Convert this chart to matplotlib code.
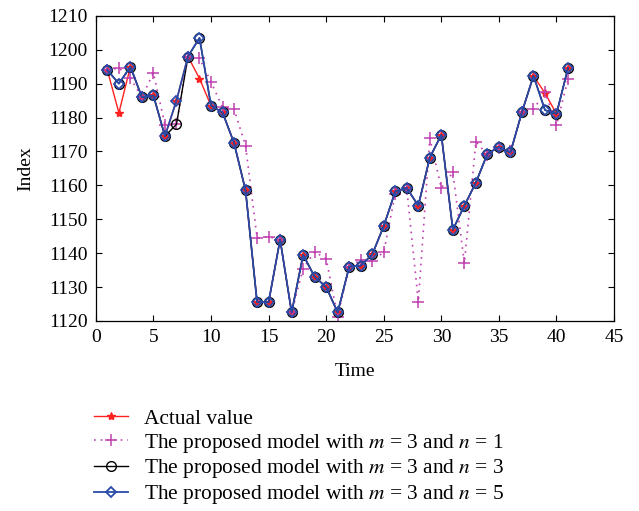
import matplotlib
matplotlib.use("Agg")
import matplotlib.pyplot as plt
import numpy as np

plt.rcParams['font.family'] = ['Liberation Serif', 'DejaVu Serif']
plt.rcParams['mathtext.fontset'] = 'stix'

time = list(range(1, 42))
actual = [1194, 1181.4, 1195, 1186, 1186.5, 1174.5, 1185, 1198, 1191.5, 1183.5,
          1181.5, 1172.5, 1158.5, 1125.5, 1125.5, 1144, 1122.5, 1139.5, 1133, 1130,
          1122.5, 1136, 1136.3, 1139.6, 1148, 1158.2, 1159.2, 1154, 1168.2, 1174.9,
          1146.9, 1154, 1160.8, 1169.3, 1171.3, 1169.7, 1181.6, 1192.3, 1187.2, 1181.1,
          1194.6]
model_n1 = [1194, 1194.6, 1191.6, 1186, 1193.2, 1177.8, 1178, 1198, 1197.5, 1190.5,
            1183, 1182.5, 1171.7, 1144.5, 1144.8, 1144, 1122.5, 1135.4, 1140.4, 1138.3,
            1121.3, 1136, 1138, 1137.6, 1140.3, 1157.5, 1159, 1125.7, 1173.9, 1159.2,
            1163.8, 1137, 1172.9, 1169, 1171, 1170, 1181.5, 1182.4, 1187.5, 1177.8,
            1191.3]
model_n3 = [1194, 1190, 1195, 1186, 1186.5, 1174.5, 1178, 1198, 1203.5, 1183.5,
            1181.5, 1172.5, 1158.5, 1125.5, 1125.5, 1144, 1122.5, 1139.5, 1133, 1130,
            1122.5, 1136, 1136.3, 1139.6, 1148, 1158.2, 1159.2, 1154, 1168.2, 1174.9,
            1146.9, 1154, 1160.8, 1169.3, 1171.3, 1169.7, 1181.6, 1192.3, 1182.2, 1181.1,
            1194.6]
model_n5 = [1194, 1190, 1195, 1186, 1186.5, 1174.5, 1185, 1198, 1203.5, 1183.5,
            1181.5, 1172.5, 1158.5, 1125.5, 1125.5, 1144, 1122.5, 1139.5, 1133, 1130,
            1122.5, 1136, 1136.3, 1139.6, 1148, 1158.2, 1159.2, 1154, 1168.2, 1174.9,
            1146.9, 1154, 1160.8, 1169.3, 1171.3, 1169.7, 1181.6, 1192.3, 1182.2, 1181.1,
            1194.6]

fig = plt.figure(figsize=(6.39, 5.11), dpi=100)
ax = fig.add_axes([0.150, 0.372, 0.811, 0.597])

h1, = ax.plot(time, actual, color='#ff2020', lw=1.0, marker='*', ms=6,
              mfc='#ff2020', mec='#ff2020', label='Actual value')
h2, = ax.plot(time, model_n1, color='#c040b0', lw=1.2, ls=(0, (1, 3)), marker='+', ms=8,
              mew=1.1, label=r'The proposed model with $m$ = 3 and $n$ = 1')
h3, = ax.plot(time, model_n3, color='black', lw=1.0, marker='o', ms=7,
              mfc='none', mec='black', mew=1.0,
              label=r'The proposed model with $m$ = 3 and $n$ = 3')
h4, = ax.plot(time, model_n5, color='#2a4aa8', lw=1.3, marker='D', ms=5.2,
              mfc='none', mec='#2a4aa8', mew=1.3,
              label=r'The proposed model with $m$ = 3 and $n$ = 5')

ax.set_xlim(0, 45)
ax.set_ylim(1120, 1210)
ax.set_xticks(np.arange(0, 46, 5))
ax.set_yticks(np.arange(1120, 1211, 10))
ax.tick_params(direction='in', top=True, right=True, labelsize=14, length=4)
ax.tick_params(axis='y', pad=6)
ax.tick_params(axis='x', pad=6)
for s in ax.spines.values():
    s.set_linewidth(0.9)
ax.set_xlabel('Time', fontsize=14, labelpad=12)
ax.set_ylabel('Index', fontsize=14, labelpad=10)

fig.legend(handles=[h1, h2, h3, h4], loc='upper left', bbox_to_anchor=(0.147, 0.200),
           frameon=False, fontsize=15.4, handlelength=1.6, labelspacing=0.13,
           handletextpad=0.75, borderaxespad=0, borderpad=0)

fig.savefig('out.png', dpi=100)
